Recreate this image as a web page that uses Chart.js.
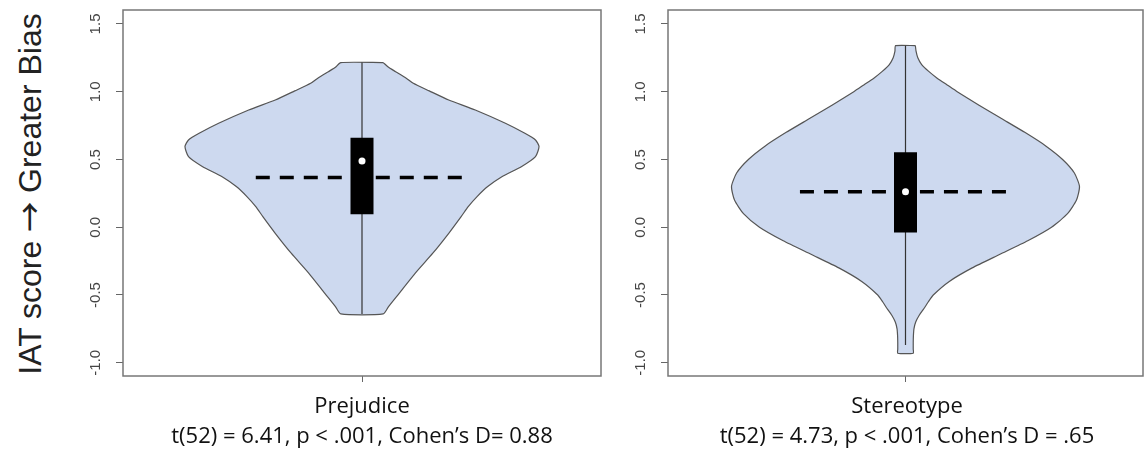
<!DOCTYPE html>
<html>
<head>
<meta charset="utf-8">
<title>IAT violin plots</title>
<script src="https://cdn.jsdelivr.net/npm/chart.js@4.4.0/dist/chart.umd.min.js"></script>
<style>
  body { margin: 0; background: #fff; width: 1147px; height: 456px; position: relative; overflow: hidden; }
  canvas { position: absolute; top: 0; }
  #ylabel {
    position: absolute; left: -172px; top: 176px; width: 400px; height: 36px; line-height: 36px;
    text-align: center; transform: rotate(-90deg);
    font-family: "Liberation Sans", Arial, sans-serif; font-size: 32px; color: #222; white-space: nowrap;
  }
  #ylabel .arrow { font-family: "Noto Sans CJK JP", "DejaVu Sans", sans-serif; font-size: 30px; font-weight: 500; }
  .caption {
    position: absolute; width: 500px; text-align: center; white-space: nowrap;
    font-family: "Open Sans", sans-serif; font-size: 22px; color: #111; line-height: 30px;
  }
</style>
</head>
<body>
<div id="ylabel">IAT score <span class="arrow">→</span> Greater Bias</div>
<canvas id="c1" width="535" height="390" style="left:75px"></canvas>
<canvas id="c2" width="527" height="390" style="left:620px"></canvas>
<div class="caption" style="left:112px; top:389px">Prejudice<br>t(52) = 6.41, p &lt; .001, Cohen’s D= 0.88</div>
<div class="caption" style="left:657px; top:389px">Stereotype<br>t(52) = 4.73, p &lt; .001, Cohen’s D = .65</div>

<script>
const categories = ['Prejudice', 'Stereotype'];

// y axis
const yTicks = [-1.0, -0.5, 0.0, 0.5, 1.0, 1.5];
const yTickLabels = ['-1.0', '-0.5', '0.0', '0.5', '1.0', '1.5'];

// violin outline: IAT score and relative density (half width, max = 1)
const prejudiceY = [1.215, 1.18, 1.148, 1.10, 1.062, 1.006, 0.939, 0.865, 0.767, 0.693, 0.644, 0.595, 0.521, 0.447, 0.373, 0.300, 0.226, 0.152, 0.078, -0.045, -0.192, -0.340, -0.488, -0.586, -0.640];
const prejudiceWidth = [0.12, 0.15, 0.19, 0.25, 0.29, 0.38, 0.49, 0.64, 0.81, 0.92, 0.98, 1.00, 0.98, 0.90, 0.79, 0.71, 0.65, 0.60, 0.56, 0.49, 0.40, 0.30, 0.21, 0.15, 0.12];

const stereotypeY = [1.34, 1.30, 1.25, 1.20, 1.15, 1.10, 1.05, 1.00, 0.90, 0.80, 0.70, 0.60, 0.50, 0.40, 0.30, 0.20, 0.10, 0.00, -0.10, -0.20, -0.30, -0.40, -0.50, -0.55, -0.60, -0.65, -0.70, -0.75, -0.80, -0.85, -0.90, -0.93];
const stereotypeWidth = [0.056, 0.060, 0.070, 0.092, 0.132, 0.18, 0.237, 0.294, 0.418, 0.548, 0.678, 0.797, 0.893, 0.96, 0.989, 0.972, 0.921, 0.83, 0.695, 0.537, 0.379, 0.249, 0.158, 0.130, 0.105, 0.078, 0.058, 0.048, 0.045, 0.044, 0.044, 0.044];

// box stats per category
const whiskerMin = [-0.640, -0.87];
const whiskerMax = [1.215, 1.34];
const q1 = [0.095, -0.039];
const q3 = [0.661, 0.553];
const medians = [0.489, 0.262];
const means = [0.366, 0.262];

const violinFill = '#cdd9ef';
const edgeColor = '#555';

function outline(ys, ws) {
  let pts = [];
  for (let i = 0; i < ys.length; i++) pts.push({x: ws[i], y: ys[i]});
  for (let i = ys.length - 1; i >= 0; i--) pts.push({x: -ws[i], y: ys[i]});
  pts.push({x: ws[0], y: ys[0]});
  return pts;
}

// frame + rotated tick labels
const framePlugin = {
  id: 'frame',
  afterDraw(chart) {
    const ctx = chart.ctx;
    const a = chart.chartArea;
    const ys = chart.scales.y;
    ctx.save();
    ctx.strokeStyle = '#777';
    ctx.lineWidth = 1.5;
    ctx.strokeRect(a.left, a.top, a.right - a.left, a.bottom - a.top);
    ctx.fillStyle = '#444';
    ctx.font = '15px "Liberation Sans", Arial, sans-serif';
    ctx.textAlign = 'center';
    ctx.textBaseline = 'middle';
    yTicks.forEach((v, i) => {
      const py = ys.getPixelForValue(v);
      ctx.save();
      ctx.translate(a.left - 27, py);
      ctx.rotate(-Math.PI / 2);
      ctx.fillText(yTickLabels[i], 0, 0);
      ctx.restore();
    });
    ctx.restore();
  }
};

function makeChart(id, idx, ys, ws, padRight) {
  const ctx = document.getElementById(id).getContext('2d');
  return new Chart(ctx, {
    type: 'scatter',
    data: {
      datasets: [
        {
          label: categories[idx],
          data: outline(ys, ws),
          showLine: true,
          fill: 'shape',
          backgroundColor: violinFill,
          borderColor: edgeColor,
          borderWidth: 1.2,
          tension: 0.2,
          pointRadius: 0,
          order: 5
        },
        {
          data: [{x: 0, y: whiskerMin[idx]}, {x: 0, y: whiskerMax[idx]}],
          showLine: true,
          borderColor: '#333',
          borderWidth: 1.2,
          pointRadius: 0,
          order: 4
        },
        {
          data: [{x: -0.6, y: means[idx]}, {x: 0.6, y: means[idx]}],
          showLine: true,
          borderColor: '#000',
          borderWidth: 3.5,
          borderDash: [14, 10],
          pointRadius: 0,
          order: 3
        },
        {
          data: [{x: 0, y: q1[idx]}, {x: 0, y: q3[idx]}],
          showLine: true,
          borderColor: '#000',
          borderWidth: 23,
          borderCapStyle: 'butt',
          pointRadius: 0,
          order: 2
        },
        {
          data: [{x: 0, y: medians[idx]}],
          pointRadius: 3.5,
          pointBackgroundColor: '#fff',
          pointBorderWidth: 0,
          order: 1
        }
      ]
    },
    options: {
      responsive: false,
      animation: false,
      layout: { padding: { top: 10, right: padRight, left: 0, bottom: 0 } },
      plugins: { legend: { display: false }, tooltip: { enabled: false } },
      scales: {
        x: {
          type: 'linear', min: -1.35, max: 1.35,
          ticks: { display: false },
          afterBuildTicks: s => { s.ticks = [{value: 0}]; },
          afterFit: s => { s.height = 14; },
          grid: { drawOnChartArea: false, tickLength: 6, color: '#666' },
          border: { display: false }
        },
        y: {
          min: -1.098, max: 1.603,
          ticks: { display: false },
          afterBuildTicks: s => { s.ticks = yTicks.map(v => ({value: v})); },
          afterFit: s => { s.width = 48; },
          grid: { drawOnChartArea: false, tickLength: 7, color: '#666' },
          border: { display: false }
        }
      }
    },
    plugins: [framePlugin]
  });
}

makeChart('c1', 0, prejudiceY, prejudiceWidth, 9);
makeChart('c2', 1, stereotypeY, stereotypeWidth, 2);
</script>
</body>
</html>
